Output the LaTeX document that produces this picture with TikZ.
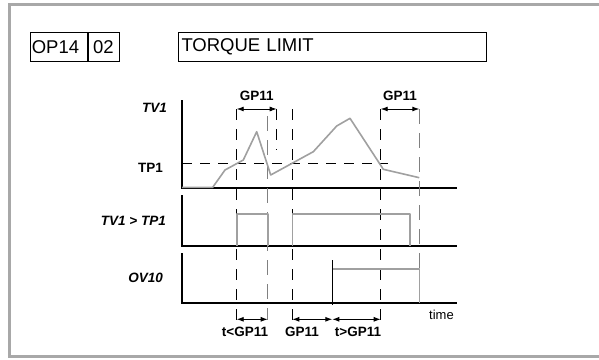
\documentclass[tikz,border=0pt]{standalone}
\usepackage{fontspec}
\setmainfont{Liberation Sans}
\usetikzlibrary{arrows.meta}
\definecolor{sig}{HTML}{A0A0A0}
\definecolor{frame}{HTML}{A8A8A8}
\definecolor{gdashc}{HTML}{808080}
\begin{document}
\begin{tikzpicture}[x=1pt,y=-1pt,
  axis/.style={line width=1.8pt},
  sigline/.style={sig, line width=1.6pt, line join=round},
  vdash/.style={line width=0.9pt, dash pattern=on 11pt off 9pt},
  gdash/.style={gdashc, line width=1.4pt, dash pattern=on 15pt off 9pt},
  hdash/.style={line width=0.9pt, dash pattern=on 10pt off 8pt},
  dimarrow/.style={line width=0.9pt, {Latex[length=7pt,width=5pt]}-{Latex[length=7pt,width=5pt]}},
  lab/.style={font=\fontsize{13.5}{13.5}\selectfont\bfseries\itshape, anchor=east, inner sep=0pt},
  blab/.style={font=\fontsize{13.5}{13.5}\selectfont\bfseries, inner sep=0pt},
  hbox/.style={draw, line width=1pt, anchor=north west, inner sep=0pt, minimum height=29pt, font=\fontsize{18.5}{18.5}\selectfont}]
\useasboundingbox (0,0) rectangle (599,359);
% outer frame
\draw[frame, line width=3pt] (620,4) -- (9.5,4) -- (9.5,356.5) -- (620,356.5);
% header
\node[hbox, minimum width=56.7pt, text width=54pt, align=left] (op) at (30,32) {OP14};
\node[hbox, minimum width=32.3pt] (num) at (86.7,32) {02};
\draw[line width=2pt] (op.north east) -- (op.south east);
\node[hbox, minimum width=308pt, text width=302pt, align=left] (title) at (178,32) {TORQUE LIMIT};
% axes
\draw[axis] (182,100) -- (182,188) -- (457,188);
\draw[axis] (182,195) -- (182,245.7) -- (457,245.7);
\draw[axis] (182,253) -- (182,303.3) -- (457,303.3);
% TP1 threshold
\draw[hdash] (182,163.5) -- (388,163.5);
% vertical marks
\draw[vdash] (236.7,109) -- (236.7,320);
\draw[gdash] (267.7,116) -- (267.7,320);
\draw[vdash] (276.7,109) -- (276.7,150);
\draw[vdash] (292.3,109) -- (292.3,320);
\draw[vdash] (380.7,109) -- (380.7,320);
\draw[gdash] (419.3,109) -- (419.3,303);
% TV1 curve
\draw[sigline] (182,187.3) -- (212.7,187.3) -- (225,170) -- (243.3,160) -- (256.7,131.7) -- (270.7,175) -- (313.3,151.7) -- (336.7,126) -- (350,118.3) -- (383.3,169.3) -- (419.3,177.7);
% TV1 > TP1 signal
\draw[sigline] (236.7,245.7) -- (236.7,214) -- (267.7,214) -- (267.7,245.7);
\draw[sigline] (292.3,245.7) -- (292.3,214) -- (410,214) -- (410,245.7);
% OV10 signal
\draw[sigline] (332.3,303.3) -- (332.3,268.7) -- (419.3,268.7) -- (419.3,303.3);
\draw[line width=0.9pt] (332.3,260) -- (332.3,305);
% dimension arrows
\draw[dimarrow] (236.7,109) -- (276.7,109);
\draw[dimarrow] (380.7,109) -- (419.3,109);
\draw[dimarrow] (236.7,319.3) -- (267.7,319.3);
\draw[dimarrow] (292.3,319.3) -- (332.3,319.3);
\draw[dimarrow] (332.3,319.3) -- (380.7,319.3);
% labels
\node[blab] (g1) at (256.7,96) {GP11};
\node[blab] (g2) at (400,96) {GP11};
\node[blab] (tl) at (245,332) {t<GP11};
\node[blab] (g3) at (302,332) {GP11};
\node[blab] (tg) at (358,332) {t>GP11};
\node[font=\fontsize{13}{13}\selectfont, inner sep=0pt] (time) at (441.5,315) {time};
\node[lab] (tv1) at (167,108) {TV1};
\node[blab, anchor=east] (tp1) at (163,168) {TP1};
\node[lab] (cmp) at (166,221) {TV1 > TP1};
\node[lab] (ov10) at (163,278) {OV10};
\end{tikzpicture}
\end{document}
